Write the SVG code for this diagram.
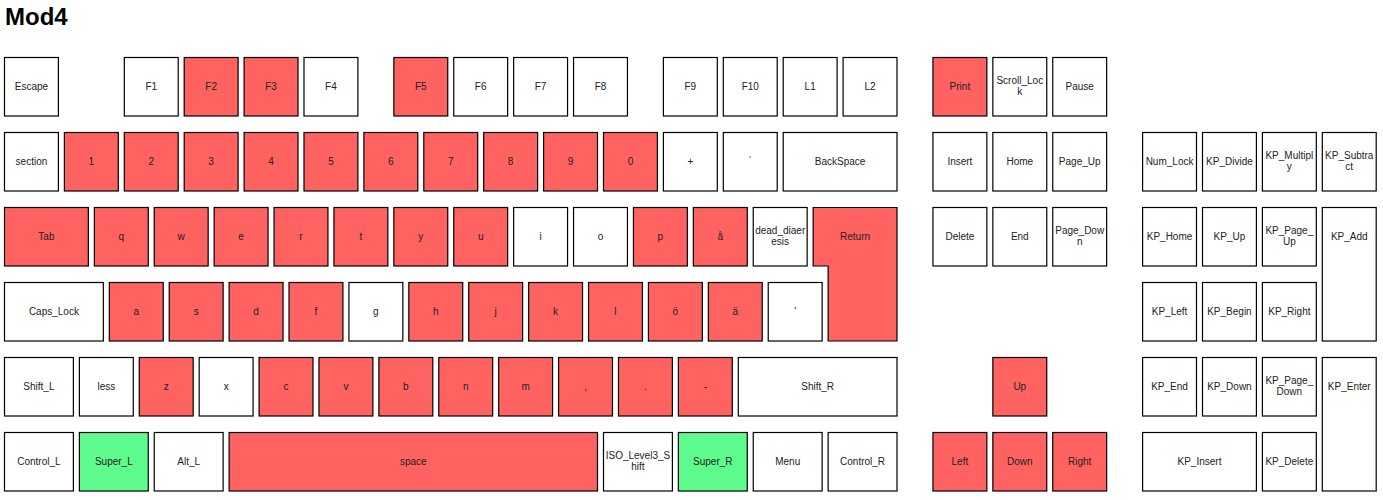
<svg xmlns="http://www.w3.org/2000/svg" width="1383" height="500" viewBox="0 0 1383 500">
<style>
.k{stroke:#000;stroke-width:1.2}
.w{fill:#fff}
.r{fill:#ff6361}
.g{fill:#5efc8d}
text{font-family:"Liberation Sans",Arial,sans-serif;font-size:10px;fill:#222;text-anchor:middle}
.title{font-size:24px;font-weight:bold;fill:#000;text-anchor:start}
</style>
<rect width="1383" height="500" fill="#fff"/>
<text class="title" x="5" y="25">Mod4</text>
<g id="keys">
<!-- Row 0 -->
<g id="key-Escape"><rect class="k w" x="4.5" y="57.5" width="53.9" height="58.5"/><text x="31.45" y="90.25">Escape</text></g>
<g id="key-F1"><rect class="k w" x="124.3" y="57.5" width="53.9" height="58.5"/><text x="151.25" y="90.25">F1</text></g>
<g id="key-F2"><rect class="k r" x="184.2" y="57.5" width="53.9" height="58.5"/><text x="211.15" y="90.25">F2</text></g>
<g id="key-F3"><rect class="k r" x="244.1" y="57.5" width="53.9" height="58.5"/><text x="271.05" y="90.25">F3</text></g>
<g id="key-F4"><rect class="k w" x="304" y="57.5" width="53.9" height="58.5"/><text x="330.95" y="90.25">F4</text></g>
<g id="key-F5"><rect class="k r" x="393.85" y="57.5" width="53.9" height="58.5"/><text x="420.8" y="90.25">F5</text></g>
<g id="key-F6"><rect class="k w" x="453.75" y="57.5" width="53.9" height="58.5"/><text x="480.7" y="90.25">F6</text></g>
<g id="key-F7"><rect class="k w" x="513.65" y="57.5" width="53.9" height="58.5"/><text x="540.6" y="90.25">F7</text></g>
<g id="key-F8"><rect class="k w" x="573.55" y="57.5" width="53.9" height="58.5"/><text x="600.5" y="90.25">F8</text></g>
<g id="key-F9"><rect class="k w" x="663.4" y="57.5" width="53.9" height="58.5"/><text x="690.35" y="90.25">F9</text></g>
<g id="key-F10"><rect class="k w" x="723.3" y="57.5" width="53.9" height="58.5"/><text x="750.25" y="90.25">F10</text></g>
<g id="key-L1"><rect class="k w" x="783.2" y="57.5" width="53.9" height="58.5"/><text x="810.15" y="90.25">L1</text></g>
<g id="key-L2"><rect class="k w" x="843.1" y="57.5" width="53.9" height="58.5"/><text x="870.05" y="90.25">L2</text></g>
<g id="key-Print"><rect class="k r" x="932.95" y="57.5" width="53.9" height="58.5"/><text x="959.9" y="90.25">Print</text></g>
<g id="key-Scroll_Lock"><rect class="k w" x="992.85" y="57.5" width="53.9" height="58.5"/><text x="1019.8" y="84.25">Scroll_Loc<tspan x="1019.8" y="95.25">k</tspan></text></g>
<g id="key-Pause"><rect class="k w" x="1052.75" y="57.5" width="53.9" height="58.5"/><text x="1079.7" y="90.25">Pause</text></g>
<!-- Row 1 -->
<g id="key-section"><rect class="k w" x="4.5" y="132.5" width="53.9" height="58.5"/><text x="31.45" y="165.25">section</text></g>
<g id="key-1"><rect class="k r" x="64.4" y="132.5" width="53.9" height="58.5"/><text x="91.35" y="165.25">1</text></g>
<g id="key-2"><rect class="k r" x="124.3" y="132.5" width="53.9" height="58.5"/><text x="151.25" y="165.25">2</text></g>
<g id="key-3"><rect class="k r" x="184.2" y="132.5" width="53.9" height="58.5"/><text x="211.15" y="165.25">3</text></g>
<g id="key-4"><rect class="k r" x="244.1" y="132.5" width="53.9" height="58.5"/><text x="271.05" y="165.25">4</text></g>
<g id="key-5"><rect class="k r" x="304" y="132.5" width="53.9" height="58.5"/><text x="330.95" y="165.25">5</text></g>
<g id="key-6"><rect class="k r" x="363.9" y="132.5" width="53.9" height="58.5"/><text x="390.85" y="165.25">6</text></g>
<g id="key-7"><rect class="k r" x="423.8" y="132.5" width="53.9" height="58.5"/><text x="450.75" y="165.25">7</text></g>
<g id="key-8"><rect class="k r" x="483.7" y="132.5" width="53.9" height="58.5"/><text x="510.65" y="165.25">8</text></g>
<g id="key-9"><rect class="k r" x="543.6" y="132.5" width="53.9" height="58.5"/><text x="570.55" y="165.25">9</text></g>
<g id="key-0"><rect class="k r" x="603.5" y="132.5" width="53.9" height="58.5"/><text x="630.45" y="165.25">0</text></g>
<g id="key-plus"><rect class="k w" x="663.4" y="132.5" width="53.9" height="58.5"/><text x="690.35" y="165.25">+</text></g>
<g id="key-grave"><rect class="k w" x="723.3" y="132.5" width="53.9" height="58.5"/><text x="750.25" y="165.25">`</text></g>
<g id="key-BackSpace"><rect class="k w" x="783.2" y="132.5" width="113.8" height="58.5"/><text x="840.1" y="165.25">BackSpace</text></g>
<g id="key-Insert"><rect class="k w" x="932.95" y="132.5" width="53.9" height="58.5"/><text x="959.9" y="165.25">Insert</text></g>
<g id="key-Home"><rect class="k w" x="992.85" y="132.5" width="53.9" height="58.5"/><text x="1019.8" y="165.25">Home</text></g>
<g id="key-Page_Up"><rect class="k w" x="1052.75" y="132.5" width="53.9" height="58.5"/><text x="1079.7" y="165.25">Page_Up</text></g>
<g id="key-Num_Lock"><rect class="k w" x="1142.6" y="132.5" width="53.9" height="58.5"/><text x="1169.55" y="165.25">Num_Lock</text></g>
<g id="key-KP_Divide"><rect class="k w" x="1202.5" y="132.5" width="53.9" height="58.5"/><text x="1229.45" y="165.25">KP_Divide</text></g>
<g id="key-KP_Multiply"><rect class="k w" x="1262.4" y="132.5" width="53.9" height="58.5"/><text x="1289.35" y="159.25">KP_Multipl<tspan x="1289.35" y="170.25">y</tspan></text></g>
<g id="key-KP_Subtract"><rect class="k w" x="1322.3" y="132.5" width="53.9" height="58.5"/><text x="1349.25" y="159.25">KP_Subtra<tspan x="1349.25" y="170.25">ct</tspan></text></g>
<!-- Row 2 -->
<g id="key-Tab"><rect class="k r" x="4.5" y="207.5" width="83.85" height="58.5"/><text x="46.43" y="240.25">Tab</text></g>
<g id="key-q"><rect class="k r" x="94.35" y="207.5" width="53.9" height="58.5"/><text x="121.3" y="240.25">q</text></g>
<g id="key-w"><rect class="k r" x="154.25" y="207.5" width="53.9" height="58.5"/><text x="181.2" y="240.25">w</text></g>
<g id="key-e"><rect class="k r" x="214.15" y="207.5" width="53.9" height="58.5"/><text x="241.1" y="240.25">e</text></g>
<g id="key-r"><rect class="k r" x="274.05" y="207.5" width="53.9" height="58.5"/><text x="301" y="240.25">r</text></g>
<g id="key-t"><rect class="k r" x="333.95" y="207.5" width="53.9" height="58.5"/><text x="360.9" y="240.25">t</text></g>
<g id="key-y"><rect class="k r" x="393.85" y="207.5" width="53.9" height="58.5"/><text x="420.8" y="240.25">y</text></g>
<g id="key-u"><rect class="k r" x="453.75" y="207.5" width="53.9" height="58.5"/><text x="480.7" y="240.25">u</text></g>
<g id="key-i"><rect class="k w" x="513.65" y="207.5" width="53.9" height="58.5"/><text x="540.6" y="240.25">i</text></g>
<g id="key-o"><rect class="k w" x="573.55" y="207.5" width="53.9" height="58.5"/><text x="600.5" y="240.25">o</text></g>
<g id="key-p"><rect class="k r" x="633.45" y="207.5" width="53.9" height="58.5"/><text x="660.4" y="240.25">p</text></g>
<g id="key-aring"><rect class="k r" x="693.35" y="207.5" width="53.9" height="58.5"/><text x="720.3" y="240.25">å</text></g>
<g id="key-dead_diaeresis"><rect class="k w" x="753.25" y="207.5" width="53.9" height="58.5"/><text x="780.2" y="234.25">dead_diaer<tspan x="780.2" y="245.25">esis</tspan></text></g>
<g id="key-Return"><polygon class="k r" points="813.15,207.5 897,207.5 897,341 828.13,341 828.13,266 813.15,266"/><text x="855.08" y="240.25">Return</text></g>
<g id="key-Delete"><rect class="k w" x="932.95" y="207.5" width="53.9" height="58.5"/><text x="959.9" y="240.25">Delete</text></g>
<g id="key-End"><rect class="k w" x="992.85" y="207.5" width="53.9" height="58.5"/><text x="1019.8" y="240.25">End</text></g>
<g id="key-Page_Down"><rect class="k w" x="1052.75" y="207.5" width="53.9" height="58.5"/><text x="1079.7" y="234.25">Page_Dow<tspan x="1079.7" y="245.25">n</tspan></text></g>
<g id="key-KP_Home"><rect class="k w" x="1142.6" y="207.5" width="53.9" height="58.5"/><text x="1169.55" y="240.25">KP_Home</text></g>
<g id="key-KP_Up"><rect class="k w" x="1202.5" y="207.5" width="53.9" height="58.5"/><text x="1229.45" y="240.25">KP_Up</text></g>
<g id="key-KP_Page_Up"><rect class="k w" x="1262.4" y="207.5" width="53.9" height="58.5"/><text x="1289.35" y="234.25">KP_Page_<tspan x="1289.35" y="245.25">Up</tspan></text></g>
<g id="key-KP_Add"><rect class="k w" x="1322.3" y="207.5" width="53.9" height="133.5"/><text x="1349.25" y="240.25">KP_Add</text></g>
<!-- Row 3 -->
<g id="key-Caps_Lock"><rect class="k w" x="4.5" y="282.5" width="98.83" height="58.5"/><text x="53.9" y="315.25">Caps_Lock</text></g>
<g id="key-a"><rect class="k r" x="109.33" y="282.5" width="53.9" height="58.5"/><text x="136.28" y="315.25">a</text></g>
<g id="key-s"><rect class="k r" x="169.23" y="282.5" width="53.9" height="58.5"/><text x="196.18" y="315.25">s</text></g>
<g id="key-d"><rect class="k r" x="229.13" y="282.5" width="53.9" height="58.5"/><text x="256.08" y="315.25">d</text></g>
<g id="key-f"><rect class="k r" x="289.03" y="282.5" width="53.9" height="58.5"/><text x="315.98" y="315.25">f</text></g>
<g id="key-g"><rect class="k w" x="348.93" y="282.5" width="53.9" height="58.5"/><text x="375.88" y="315.25">g</text></g>
<g id="key-h"><rect class="k r" x="408.83" y="282.5" width="53.9" height="58.5"/><text x="435.78" y="315.25">h</text></g>
<g id="key-j"><rect class="k r" x="468.73" y="282.5" width="53.9" height="58.5"/><text x="495.68" y="315.25">j</text></g>
<g id="key-k"><rect class="k r" x="528.63" y="282.5" width="53.9" height="58.5"/><text x="555.58" y="315.25">k</text></g>
<g id="key-l"><rect class="k r" x="588.53" y="282.5" width="53.9" height="58.5"/><text x="615.48" y="315.25">l</text></g>
<g id="key-odiaeresis"><rect class="k r" x="648.43" y="282.5" width="53.9" height="58.5"/><text x="675.38" y="315.25">ö</text></g>
<g id="key-adiaeresis"><rect class="k r" x="708.33" y="282.5" width="53.9" height="58.5"/><text x="735.28" y="315.25">ä</text></g>
<g id="key-apostrophe"><rect class="k w" x="768.23" y="282.5" width="53.9" height="58.5"/><text x="795.18" y="315.25">'</text></g>
<g id="key-KP_Left"><rect class="k w" x="1142.6" y="282.5" width="53.9" height="58.5"/><text x="1169.55" y="315.25">KP_Left</text></g>
<g id="key-KP_Begin"><rect class="k w" x="1202.5" y="282.5" width="53.9" height="58.5"/><text x="1229.45" y="315.25">KP_Begin</text></g>
<g id="key-KP_Right"><rect class="k w" x="1262.4" y="282.5" width="53.9" height="58.5"/><text x="1289.35" y="315.25">KP_Right</text></g>
<!-- Row 4 -->
<g id="key-Shift_L"><rect class="k w" x="4.5" y="357.5" width="68.88" height="58.5"/><text x="38.94" y="390.25">Shift_L</text></g>
<g id="key-less"><rect class="k w" x="79.38" y="357.5" width="53.9" height="58.5"/><text x="106.33" y="390.25">less</text></g>
<g id="key-z"><rect class="k r" x="139.28" y="357.5" width="53.9" height="58.5"/><text x="166.23" y="390.25">z</text></g>
<g id="key-x"><rect class="k w" x="199.18" y="357.5" width="53.9" height="58.5"/><text x="226.13" y="390.25">x</text></g>
<g id="key-c"><rect class="k r" x="259.08" y="357.5" width="53.9" height="58.5"/><text x="286.03" y="390.25">c</text></g>
<g id="key-v"><rect class="k r" x="318.98" y="357.5" width="53.9" height="58.5"/><text x="345.93" y="390.25">v</text></g>
<g id="key-b"><rect class="k r" x="378.88" y="357.5" width="53.9" height="58.5"/><text x="405.83" y="390.25">b</text></g>
<g id="key-n"><rect class="k r" x="438.78" y="357.5" width="53.9" height="58.5"/><text x="465.73" y="390.25">n</text></g>
<g id="key-m"><rect class="k r" x="498.68" y="357.5" width="53.9" height="58.5"/><text x="525.63" y="390.25">m</text></g>
<g id="key-comma"><rect class="k r" x="558.58" y="357.5" width="53.9" height="58.5"/><text x="585.53" y="390.25">,</text></g>
<g id="key-period"><rect class="k r" x="618.48" y="357.5" width="53.9" height="58.5"/><text x="645.43" y="390.25">.</text></g>
<g id="key-minus"><rect class="k r" x="678.38" y="357.5" width="53.9" height="58.5"/><text x="705.33" y="390.25">-</text></g>
<g id="key-Shift_R"><rect class="k w" x="738.28" y="357.5" width="158.73" height="58.5"/><text x="817.65" y="390.25">Shift_R</text></g>
<g id="key-Up"><rect class="k r" x="992.85" y="357.5" width="53.9" height="58.5"/><text x="1019.8" y="390.25">Up</text></g>
<g id="key-KP_End"><rect class="k w" x="1142.6" y="357.5" width="53.9" height="58.5"/><text x="1169.55" y="390.25">KP_End</text></g>
<g id="key-KP_Down"><rect class="k w" x="1202.5" y="357.5" width="53.9" height="58.5"/><text x="1229.45" y="390.25">KP_Down</text></g>
<g id="key-KP_Page_Down"><rect class="k w" x="1262.4" y="357.5" width="53.9" height="58.5"/><text x="1289.35" y="384.25">KP_Page_<tspan x="1289.35" y="395.25">Down</tspan></text></g>
<g id="key-KP_Enter"><rect class="k w" x="1322.3" y="357.5" width="53.9" height="133.5"/><text x="1349.25" y="390.25">KP_Enter</text></g>
<!-- Row 5 -->
<g id="key-Control_L"><rect class="k w" x="4.5" y="432.5" width="68.88" height="58.5"/><text x="38.94" y="465.25">Control_L</text></g>
<g id="key-Super_L"><rect class="k g" x="79.38" y="432.5" width="68.88" height="58.5"/><text x="113.82" y="465.25">Super_L</text></g>
<g id="key-Alt_L"><rect class="k w" x="154.25" y="432.5" width="68.88" height="58.5"/><text x="188.69" y="465.25">Alt_L</text></g>
<g id="key-space"><rect class="k r" x="229.13" y="432.5" width="368.38" height="58.5"/><text x="413.32" y="465.25">space</text></g>
<g id="key-ISO_Level3_Shift"><rect class="k w" x="603.5" y="432.5" width="68.88" height="58.5"/><text x="637.94" y="459.25">ISO_Level3_S<tspan x="637.94" y="470.25">hift</tspan></text></g>
<g id="key-Super_R"><rect class="k g" x="678.38" y="432.5" width="68.88" height="58.5"/><text x="712.82" y="465.25">Super_R</text></g>
<g id="key-Menu"><rect class="k w" x="753.25" y="432.5" width="68.88" height="58.5"/><text x="787.69" y="465.25">Menu</text></g>
<g id="key-Control_R"><rect class="k w" x="828.13" y="432.5" width="68.88" height="58.5"/><text x="862.57" y="465.25">Control_R</text></g>
<g id="key-Left"><rect class="k r" x="932.95" y="432.5" width="53.9" height="58.5"/><text x="959.9" y="465.25">Left</text></g>
<g id="key-Down"><rect class="k r" x="992.85" y="432.5" width="53.9" height="58.5"/><text x="1019.8" y="465.25">Down</text></g>
<g id="key-Right"><rect class="k r" x="1052.75" y="432.5" width="53.9" height="58.5"/><text x="1079.7" y="465.25">Right</text></g>
<g id="key-KP_Insert"><rect class="k w" x="1142.6" y="432.5" width="113.8" height="58.5"/><text x="1199.5" y="465.25">KP_Insert</text></g>
<g id="key-KP_Delete"><rect class="k w" x="1262.4" y="432.5" width="53.9" height="58.5"/><text x="1289.35" y="465.25">KP_Delete</text></g>
</g>
</svg>
